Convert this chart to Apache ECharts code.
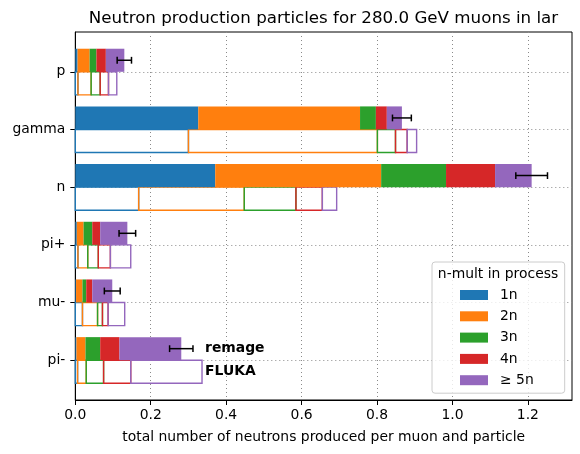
<!DOCTYPE html>
<html>
<head>
<meta charset="utf-8">
<script src="https://cdn.jsdelivr.net/npm/echarts@6/dist/echarts.min.js"></script>
<style>html,body{margin:0;padding:0;background:#fff}#c{width:580px;height:454px}</style>
</head>
<body>
<div id="c"></div>
<script>
// ---------- data ----------
const categories = ['p', 'gamma', 'n', 'pi+', 'mu-', 'pi-'];
const multLabels = ['1n', '2n', '3n', '4n', '\u2265 5n'];
const xTicks = [0, 0.2, 0.4, 0.6, 0.8, 1.0, 1.2];
const yTicks = [0, 1, 2, 3, 4, 5];

// remage (filled bars), one array per neutron multiplicity, order = categories
const remage1n = [0.006, 0.326, 0.371, 0.004, 0.002, 0.003];
const remage2n = [0.032, 0.429, 0.440, 0.018, 0.017, 0.024];
const remage3n = [0.018, 0.042, 0.172, 0.023, 0.010, 0.039];
const remage4n = [0.025, 0.029, 0.130, 0.021, 0.016, 0.051];
const remage5n = [0.049, 0.040, 0.097, 0.072, 0.053, 0.164];
const remageErr = [0.019, 0.025, 0.042, 0.022, 0.021, 0.031];

// FLUKA (outlined bars)
const fluka1n = [0.007, 0.300, 0.168, 0.007, 0.019, 0.006];
const fluka2n = [0.035, 0.501, 0.280, 0.026, 0.040, 0.023];
const fluka3n = [0.024, 0.048, 0.137, 0.028, 0.013, 0.046];
const fluka4n = [0.022, 0.031, 0.070, 0.032, 0.015, 0.072];
const fluka5n = [0.022, 0.025, 0.038, 0.054, 0.044, 0.189];

const colors = ['#1f77b4', '#ff7f0e', '#2ca02c', '#d62728', '#9467bd'];
const FONT = 'DejaVu Sans';

const remageSets = [remage1n, remage2n, remage3n, remage4n, remage5n];
const flukaSets = [fluka1n, fluka2n, fluka3n, fluka4n, fluka5n];

function stackData(sets, k) {
  return categories.map((c, i) => {
    let s = 0;
    for (let j = 0; j < k; j++) s += sets[j][i];
    return [s, s + sets[k][i], i];
  });
}

function fillItem(color) {
  return function (params, api) {
    const s = api.value(0), e = api.value(1), row = api.value(2);
    const a = api.coord([s, row - 0.4]);
    const b = api.coord([e, row]);
    return {
      type: 'rect',
      shape: { x: a[0], y: Math.min(a[1], b[1]), width: b[0] - a[0], height: Math.abs(b[1] - a[1]) },
      style: { fill: color }
    };
  };
}
function outlineItem(color) {
  return function (params, api) {
    const s = api.value(0), e = api.value(1), row = api.value(2);
    const a = api.coord([s, row]);
    const b = api.coord([e, row + 0.4]);
    return {
      type: 'rect',
      shape: { x: a[0], y: Math.min(a[1], b[1]), width: b[0] - a[0], height: Math.abs(b[1] - a[1]) },
      style: { fill: 'none', stroke: color, lineWidth: 1.4 }
    };
  };
}

const series = [];
for (let k = 0; k < 5; k++) {
  series.push({
    name: multLabels[k], type: 'custom', z: 2,
    itemStyle: { color: colors[k] },
    renderItem: outlineItem(colors[k]),
    encode: { x: [0, 1], y: 2 },
    data: stackData(flukaSets, k)
  });
}
for (let k = 0; k < 5; k++) {
  series.push({
    name: multLabels[k], type: 'custom', z: 3,
    itemStyle: { color: colors[k] },
    renderItem: fillItem(colors[k]),
    encode: { x: [0, 1], y: 2 },
    data: stackData(remageSets, k)
  });
}
// error bars on remage totals
const remageTotal = categories.map((c, i) => remageSets.reduce((acc, arr) => acc + arr[i], 0));
series.push({
  type: 'custom', z: 4, silent: true,
  renderItem: function (params, api) {
    const t = api.value(0), err = api.value(1), row = api.value(2);
    const a = api.coord([t - err, row - 0.2]);
    const b = api.coord([t + err, row - 0.2]);
    const cap = 3.4;
    const st = { stroke: '#000', lineWidth: 1.5 };
    return {
      type: 'group',
      children: [
        { type: 'line', shape: { x1: a[0], y1: a[1], x2: b[0], y2: b[1] }, style: st },
        { type: 'line', shape: { x1: a[0], y1: a[1] - cap, x2: a[0], y2: a[1] + cap }, style: st },
        { type: 'line', shape: { x1: b[0], y1: b[1] - cap, x2: b[0], y2: b[1] + cap }, style: st }
      ]
    };
  },
  encode: { x: 0, y: 2 },
  data: categories.map((c, i) => [remageTotal[i], remageErr[i], i])
});
// annotations for the two data sources
const annotations = [['remage', 0.344, 4.8], ['FLUKA', 0.344, 5.2]];
series.push({
  type: 'custom', z: 5, silent: true,
  renderItem: function (params, api) {
    const p = api.coord([api.value(1), api.value(2)]);
    return {
      type: 'text',
      style: {
        text: annotations[params.dataIndex][0], x: p[0], y: p[1],
        textAlign: 'left', textVerticalAlign: 'middle',
        font: 'bold 13.9px "DejaVu Sans"', fill: '#000'
      }
    };
  },
  encode: { x: 1, y: 2 },
  data: annotations.map(a => [0, a[1], a[2]])
});

const dotted = { color: '#8a8a8a', width: 1, type: [1, 3] };

const option = {
  animation: false,
  backgroundColor: '#fff',
  textStyle: { fontFamily: FONT },
  title: {
    text: 'Neutron production particles for 280.0 GeV muons in lar',
    left: 323.5, top: 10, padding: 0, textAlign: 'center',
    textStyle: { fontFamily: FONT, fontSize: 16.7, fontWeight: 'normal', color: '#000' }
  },
  grid: {
    left: 75.3, right: 8, top: 32, bottom: 54,
    show: true, borderColor: '#000', borderWidth: 1, containLabel: false
  },
  legend: {
    data: multLabels,
    orient: 'vertical', left: 432, top: 262,
    padding: [26, 31, 6, 28],
    itemWidth: 28, itemHeight: 10, itemGap: 7.3,
    icon: 'rect',
    backgroundColor: 'rgba(255,255,255,0.8)',
    borderColor: '#cccccc', borderWidth: 1, borderRadius: 3,
    textStyle: { fontFamily: FONT, fontSize: 13.9, lineHeight: 14, color: '#000', padding: [0, 0, 0, 7] }
  },
  graphic: [{
    type: 'text', z: 100,
    style: {
      text: 'n-mult in process', x: 498, y: 274,
      textAlign: 'center', textVerticalAlign: 'middle',
      font: '13.9px "DejaVu Sans"', fill: '#000'
    }
  }],
  xAxis: {
    type: 'value', min: 0, max: 1.317,
    name: 'total number of neutrons produced per muon and particle',
    nameLocation: 'middle', nameGap: 30,
    nameTextStyle: { fontFamily: FONT, fontSize: 13.9, color: '#000' },
    axisLine: { show: true, onZero: false, lineStyle: { color: '#000', width: 1 } },
    axisTick: { show: true, length: 5, lineStyle: { color: '#000' }, customValues: xTicks },
    axisLabel: { customValues: xTicks, formatter: v => Number(v).toFixed(1), margin: 8,
      fontFamily: FONT, fontSize: 13.9, color: '#000' },
    splitLine: { show: true, lineStyle: dotted }
  },
  yAxis: {
    type: 'value', inverse: true, min: -0.69, max: 5.69,
    axisLine: { show: true, onZero: false, lineStyle: { color: '#000', width: 1 } },
    axisTick: { show: true, length: 5, lineStyle: { color: '#000' }, customValues: yTicks },
    axisLabel: { customValues: yTicks, formatter: v => categories[Math.round(v)] || '', margin: 10,
      fontFamily: FONT, fontSize: 13.9, color: '#000' },
    splitLine: { show: true, lineStyle: dotted }
  },
  series: series
};

const chart = echarts.init(document.getElementById('c'), null, { renderer: 'canvas' });
chart.setOption(option);
</script>
</body>
</html>
